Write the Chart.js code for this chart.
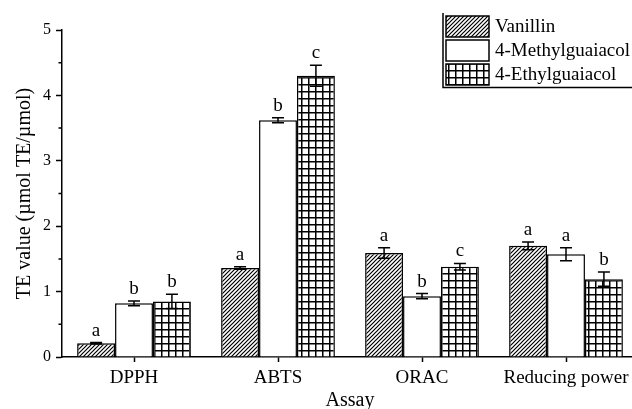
<!DOCTYPE html>
<html><head><meta charset="utf-8">
<script src="https://cdn.jsdelivr.net/npm/chart.js@4/dist/chart.umd.min.js"></script>
<style>html,body{margin:0;padding:0;overflow:hidden;background:#fff;width:632px;height:409px}canvas{display:block}</style>
</head><body><canvas id="c" width="640" height="409"></canvas>
<script>
const categories = ['DPPH', 'ABTS', 'ORAC', 'Reducing power'];
const seriesNames = ['Vanillin', '4-Methylguaiacol', '4-Ethylguaiacol'];
const vanillin = [0.21, 1.36, 1.59, 1.70];
const vanillinErr = [0.01, 0.02, 0.08, 0.06];
const methyl = [0.82, 3.62, 0.93, 1.57];
const methylErr = [0.035, 0.04, 0.04, 0.10];
const ethyl = [0.85, 4.30, 1.38, 1.19];
const ethylErr = [0.11, 0.16, 0.05, 0.11];
const vanillinLetters = ['a', 'a', 'a', 'a'];
const methylLetters = ['b', 'b', 'b', 'a'];
const ethylLetters = ['b', 'c', 'c', 'b'];
const yTicks = [0, 1, 2, 3, 4, 5];
const yMinorTicks = [0.5, 1.5, 2.5, 3.5, 4.5];

const FONT = '"Liberation Serif", "Times New Roman", serif';
const canvas = document.getElementById('c');
const ctx0 = canvas.getContext('2d');

function hatchPattern() {
  const c = document.createElement('canvas'); c.width = 4; c.height = 4;
  const g = c.getContext('2d');
  g.fillStyle = '#fff'; g.fillRect(0, 0, 4, 4);
  g.strokeStyle = '#000'; g.lineWidth = 1.2;
  g.beginPath();
  g.moveTo(-1, 5); g.lineTo(5, -1);
  g.moveTo(-1, 1); g.lineTo(1, -1);
  g.moveTo(3, 5); g.lineTo(5, 3);
  g.stroke();
  return ctx0.createPattern(c, 'repeat');
}
function gridPattern() {
  const c = document.createElement('canvas'); c.width = 7; c.height = 7;
  const g = c.getContext('2d');
  g.fillStyle = '#fff'; g.fillRect(0, 0, 7, 7);
  g.fillStyle = '#000';
  g.fillRect(0, 0, 1.5, 7); g.fillRect(0, 0, 7, 1.5);
  return ctx0.createPattern(c, 'repeat');
}
const fills = [hatchPattern(), '#ffffff', gridPattern()];
const values = [vanillin, methyl, ethyl];
const errs = [vanillinErr, methylErr, ethylErr];
const letters = [vanillinLetters, methylLetters, ethylLetters];

const overlay = {
  id: 'overlay',
  afterDatasetsDraw(chart) {
    const ctx = chart.ctx, y = chart.scales.y;
    ctx.save();
    ctx.strokeStyle = '#000'; ctx.fillStyle = '#000'; ctx.lineWidth = 1.5;
    ctx.font = '19px ' + FONT; ctx.textAlign = 'center'; ctx.textBaseline = 'alphabetic';
    errs.forEach((err, di) => {
      const meta = chart.getDatasetMeta(di);
      meta.data.forEach((bar, i) => {
        const v = values[di][i];
        const x = bar.x;
        const top = y.getPixelForValue(v + err[i]);
        const bot = y.getPixelForValue(v - err[i]);
        ctx.beginPath();
        ctx.moveTo(x, top); ctx.lineTo(x, bot);
        ctx.moveTo(x - 6, top); ctx.lineTo(x + 6, top);
        ctx.moveTo(x - 6, bot); ctx.lineTo(x + 6, bot);
        ctx.stroke();
        ctx.fillText(letters[di][i], x, top - 7);
      });
    });
    // minor ticks
    const left = chart.chartArea.left;
    ctx.beginPath();
    yMinorTicks.forEach(v => { const py = y.getPixelForValue(v); ctx.moveTo(left - 3.5, py); ctx.lineTo(left, py); });
    ctx.stroke();
    // legend
    const lx = 443, ly0 = 16, sw = 43, sh = 21, gap = 24;
    ctx.beginPath();
    ctx.moveTo(lx, 13); ctx.lineTo(lx, 87.5); ctx.lineTo(640, 87.5);
    ctx.stroke();
    ctx.textAlign = 'left'; ctx.textBaseline = 'middle';
    seriesNames.forEach((name, i) => {
      const sy = ly0 + i * gap;
      ctx.fillStyle = fills[i];
      ctx.fillRect(lx + 3, sy, sw, sh);
      ctx.strokeRect(lx + 3, sy, sw, sh);
      ctx.fillStyle = '#000';
      ctx.fillText(name, 495, sy + sh / 2 + 1);
    });
    ctx.restore();
  }
};

new Chart(canvas, {
  type: 'bar',
  data: {
    labels: categories,
    datasets: seriesNames.map((name, i) => ({
      label: name,
      data: values[i],
      backgroundColor: fills[i],
      borderColor: '#000',
      borderWidth: 1.5,
      categoryPercentage: 0.79,
      barPercentage: 1.0
    }))
  },
  options: {
    responsive: false,
    animation: false,
    layout: { padding: { top: 30, right: 2, left: 0, bottom: 0 } },
    plugins: { legend: { display: false }, tooltip: { enabled: false } },
    scales: {
      x: {
        afterFit(s) { s.height = 52; },
        border: { color: '#000', width: 1.5 },
        grid: { drawOnChartArea: false, offset: false, tickLength: 5, color: '#000', tickWidth: 1.5 },
        ticks: { color: '#000', font: { family: FONT, size: 19 }, padding: 5, maxRotation: 0, autoSkip: false },
        title: { display: true, text: 'Assay', color: '#000', font: { family: FONT, size: 20, lineHeight: 1 }, padding: { top: 0, bottom: -2 } }
      },
      y: {
        min: 0, max: 5,
        afterFit(s) { s.width = 62; },
        afterBuildTicks(s) { s.ticks = yTicks.map(v => ({ value: v })); },
        border: { color: '#000', width: 1.5 },
        grid: { drawOnChartArea: false, tickLength: 6, color: '#000', tickWidth: 1.5 },
        ticks: { color: '#000', font: { family: FONT, size: 16 }, padding: 5 },
        title: { display: true, text: 'TE value (µmol TE/µmol)', color: '#000', font: { family: FONT, size: 20, lineHeight: 1 }, padding: { top: 15, bottom: 0 } }
      }
    }
  },
  plugins: [overlay]
});
</script>
</body></html>
